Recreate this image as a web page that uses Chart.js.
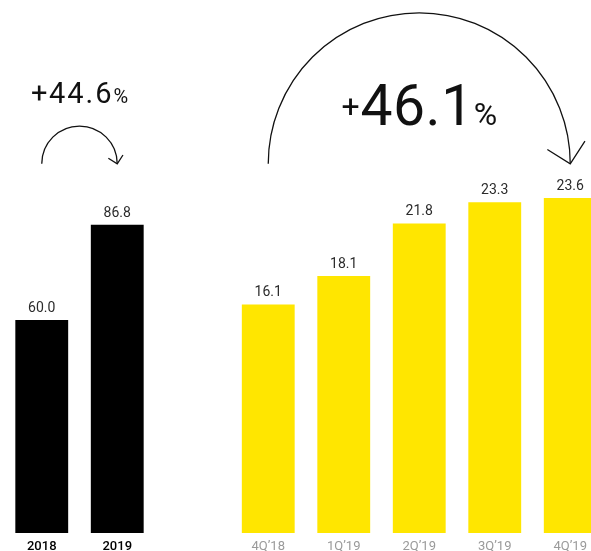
<!DOCTYPE html>
<html>
<head>
<meta charset="utf-8">
<script src="https://cdn.jsdelivr.net/npm/chart.js@4.4.1/dist/chart.umd.min.js"></script>
<style>
  html, body { margin: 0; padding: 0; overflow: hidden; background: #ffffff; }
  canvas { display: block; }
</style>
</head>
<body>
<canvas id="chart" width="608" height="560"></canvas>
<script>
// Categories: two years, an empty spacer slot, then five quarters
const categories = ['2018', '2019', '', '4Q\u201918', '1Q\u201919', '2Q\u201919', '3Q\u201919', '4Q\u201919'];
// Annual totals (left group)
const annualValues = [60.0, 86.8, null, null, null, null, null, null];
// Quarterly values (right group)
const quarterlyValues = [null, null, null, 16.1, 18.1, 21.8, 23.3, 23.6];
// Growth callouts: [prefix, number, suffix]
const annualGrowth = ['+', '44.6', '%'];
const quarterlyGrowth = ['+', '46.1', '%'];

const FONT = 'Roboto, "Noto Sans", sans-serif';

// Numbers printed above each bar
const valueLabels = {
  id: 'valueLabels',
  afterDatasetsDraw(chart) {
    const ctx = chart.ctx;
    ctx.save();
    ctx.font = '14px ' + FONT;
    ctx.fillStyle = '#2b2b2b';
    ctx.textAlign = 'center';
    ctx.textBaseline = 'alphabetic';
    chart.data.datasets.forEach((ds, di) => {
      chart.getDatasetMeta(di).data.forEach((bar, i) => {
        const v = ds.data[i];
        if (v === null || v === undefined) return;
        ctx.fillText(v.toFixed(1), bar.x, bar.y - 8);
      });
    });
    ctx.restore();
  }
};

// Curved arrows between two bar centres with a growth figure above
const growthArcs = {
  id: 'growthArcs',
  afterDraw(chart, args, opts) {
    const ctx = chart.ctx;
    const xs = chart.scales.x;
    const ys = chart.scales.y;
    opts.arcs.forEach(a => {
      const x0 = xs.getPixelForValue(a.from);
      const x1 = xs.getPixelForValue(a.to);
      const cx = (x0 + x1) / 2;
      const r = (x1 - x0) / 2;
      const cy = ys.getPixelForValue(a.base);
      ctx.save();
      ctx.strokeStyle = '#111';
      ctx.lineWidth = 1.3;
      ctx.beginPath();
      ctx.arc(cx, cy, r, Math.PI, 0, false);
      ctx.stroke();
      // arrowhead at the right end
      const la = 58 * Math.PI / 180, ra = 33 * Math.PI / 180;
      ctx.beginPath();
      ctx.moveTo(x1 - Math.sin(la) * a.head, cy - Math.cos(la) * a.head);
      ctx.lineTo(x1, cy);
      ctx.lineTo(x1 + Math.sin(ra) * a.head, cy - Math.cos(ra) * a.head);
      ctx.stroke();
      // growth figure
      ctx.fillStyle = '#111';
      ctx.textBaseline = 'alphabetic';
      ctx.textAlign = 'left';
      let total = 0;
      const widths = a.parts.map((p, i) => {
        ctx.letterSpacing = (a.spacing[i] || 0) + 'px';
        ctx.font = a.sizes[i] + 'px ' + FONT;
        const w = ctx.measureText(p).width;
        total += w;
        return w;
      });
      let tx = cx - total / 2;
      const baseY = cy - a.textOffset;
      a.parts.forEach((p, i) => {
        ctx.letterSpacing = (a.spacing[i] || 0) + 'px';
        ctx.font = a.sizes[i] + 'px ' + FONT;
        ctx.fillText(p, tx, baseY - (a.rise[i] || 0));
        tx += widths[i];
      });
      ctx.restore();
    });
  }
};

new Chart(document.getElementById('chart'), {
  type: 'bar',
  data: {
    labels: categories,
    datasets: [
      { data: annualValues, backgroundColor: '#000000', yAxisID: 'y', grouped: false },
      { data: quarterlyValues, backgroundColor: '#FFE600', yAxisID: 'y1', grouped: false }
    ]
  },
  options: {
    responsive: false,
    animation: false,
    devicePixelRatio: 1,
    barPercentage: 0.7,
    categoryPercentage: 1.0,
    layout: { padding: { top: 36, left: 4, right: 0, bottom: 0 } },
    plugins: {
      legend: { display: false },
      tooltip: { enabled: false },
      growthArcs: {
        arcs: [
          { from: 0, to: 1, base: 104, head: 10.5, textOffset: 61,
            parts: annualGrowth, sizes: [29, 29, 20], spacing: [1.5, 2, 0], rise: [0, 0, 0] },
          { from: 3, to: 7, base: 104, head: 27, textOffset: 39,
            parts: quarterlyGrowth, sizes: [32, 57, 32], spacing: [1, 0.5, 0], rise: [8, 0, 0] }
        ]
      }
    },
    scales: {
      x: {
        grid: { display: false, drawTicks: false },
        border: { display: false },
        ticks: {
          autoSkip: false,
          maxRotation: 0,
          padding: 7,
          color: c => (c.index < 2 ? '#000000' : '#9a9a9a'),
          font: c => ({ family: FONT, size: 13, weight: c.index < 2 ? '500' : 'normal', lineHeight: 1 })
        }
      },
      y: { display: false, min: 0, max: 140 },
      y1: { display: false, min: 0, max: 35 }
    }
  },
  plugins: [valueLabels, growthArcs]
});
</script>
</body>
</html>
